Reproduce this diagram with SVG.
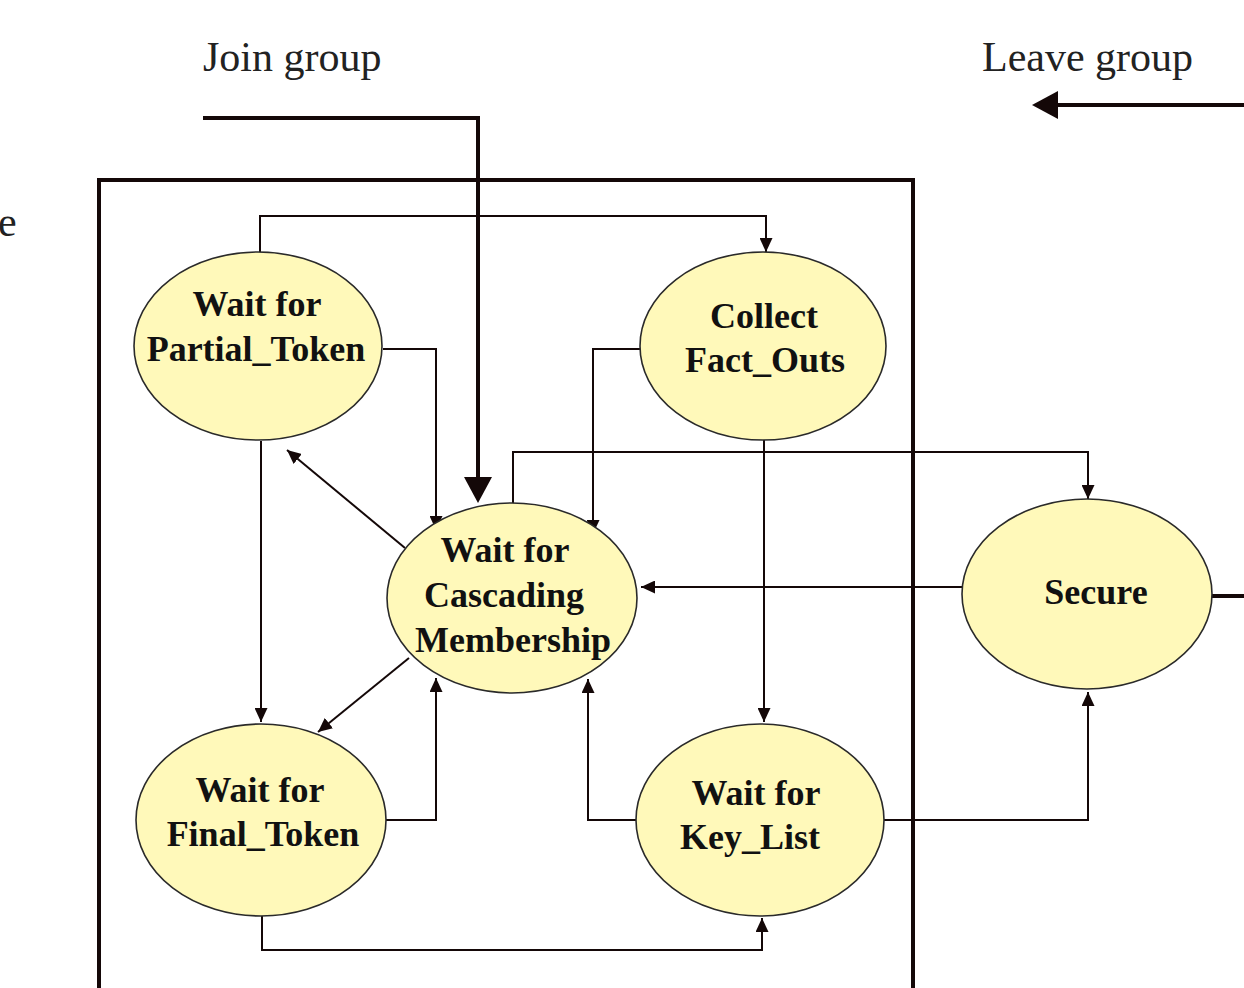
<svg xmlns="http://www.w3.org/2000/svg" width="1244" height="988" viewBox="0 0 1244 988">
<style>
.lbl{font-family:"Liberation Serif","Times New Roman",serif;font-size:42px;fill:#222;}
.nt{font-family:"Liberation Serif","Times New Roman",serif;font-size:36px;font-weight:bold;fill:#111;text-anchor:middle;}
.node{fill:#FFF9BA;stroke:#2a2a2a;stroke-width:1.6;}
.thin{fill:none;stroke:#140808;stroke-width:2;}
.thick{fill:none;stroke:#140808;stroke-width:4;}
</style>
<defs>
<marker id="a" markerUnits="userSpaceOnUse" markerWidth="14" markerHeight="13" refX="14" refY="6.5" orient="auto">
<path d="M0,0 L14,6.5 L0,13 z" fill="#140808"/>
</marker>
<marker id="big" markerUnits="userSpaceOnUse" markerWidth="26" markerHeight="28" refX="12" refY="14" orient="auto">
<path d="M0,0 L26,14 L0,28 z" fill="#140808"/>
</marker>
</defs>
<rect width="1244" height="988" fill="#fff"/>
<text class="lbl" x="203" y="71">Join group</text>
<text class="lbl" x="982" y="71">Leave group</text>
<text class="lbl" x="-2" y="236">e</text>
<g id="frame">
<path class="thick" d="M99,992 V180 H913 V992"/>
</g>
<g id="connectors">
<path class="thick" d="M203,118 H478 V489" marker-end="url(#big)"/>
<path class="thick" d="M1244,105 H1046" marker-end="url(#big)"/>
<path class="thick" d="M1212,596 H1244" stroke-width="3"/>
<path class="thin" d="M260,252 V216 H766 V252" marker-end="url(#a)"/>
<path class="thin" d="M383,349 H436 V530" marker-end="url(#a)"/>
<path class="thin" d="M640,349 H593 V534" marker-end="url(#a)"/>
<path class="thin" d="M764,440 V722" marker-end="url(#a)"/>
<path class="thin" d="M513,505 V452 H1088 V499" marker-end="url(#a)"/>
<path class="thin" d="M962,587 H641" marker-end="url(#a)"/>
<path class="thin" d="M405,548 L287,450" marker-end="url(#a)"/>
<path class="thin" d="M409,658 L318,732" marker-end="url(#a)"/>
<path class="thin" d="M261,441 V722" marker-end="url(#a)"/>
<path class="thin" d="M386,820 H436 V678" marker-end="url(#a)"/>
<path class="thin" d="M636,820 H588 V679" marker-end="url(#a)"/>
<path class="thin" d="M884,820 H1088 V692" marker-end="url(#a)"/>
<path class="thin" d="M262,916 V950 H762 V918" marker-end="url(#a)"/>
</g>
<g id="partial">
<ellipse class="node" cx="258" cy="346" rx="124" ry="94"/>
<text class="nt" x="257" y="316">Wait for</text>
<text class="nt" x="256" y="361">Partial_Token</text>
</g>
<g id="collect">
<ellipse class="node" cx="763" cy="346" rx="123" ry="94"/>
<text class="nt" x="764" y="328">Collect</text>
<text class="nt" x="765" y="372">Fact_Outs</text>
</g>
<g id="cascading">
<ellipse class="node" cx="512" cy="598" rx="125" ry="95"/>
<text class="nt" x="505" y="562">Wait for</text>
<text class="nt" x="504" y="607">Cascading</text>
<text class="nt" x="513" y="652">Membership</text>
</g>
<g id="secure">
<ellipse class="node" cx="1087" cy="594" rx="125" ry="95"/>
<text class="nt" x="1096" y="604">Secure</text>
</g>
<g id="final">
<ellipse class="node" cx="261" cy="820" rx="125" ry="96"/>
<text class="nt" x="260" y="802">Wait for</text>
<text class="nt" x="263" y="846">Final_Token</text>
</g>
<g id="keylist">
<ellipse class="node" cx="760" cy="820" rx="124" ry="96"/>
<text class="nt" x="756" y="805">Wait for</text>
<text class="nt" x="750" y="849">Key_List</text>
</g>
</svg>
